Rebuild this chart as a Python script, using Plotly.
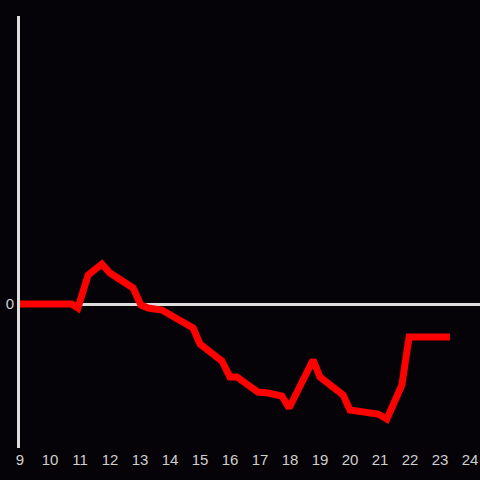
import plotly.graph_objects as go

x_vals = [9.0, 10.73, 10.93, 11.27, 11.73, 12.0, 12.77, 13.03, 13.27, 13.73,
          14.77, 15.0, 15.73, 16.0, 16.23, 16.93, 17.27, 17.73, 17.97, 18.77,
          19.0, 19.77, 20.0, 20.93, 21.23, 21.73, 21.97, 23.33]
y_vals = [0.0, 0.0, -0.4, 2.9, 4.0, 3.1, 1.6, -0.1, -0.4, -0.6,
          -2.4, -4.0, -5.7, -7.3, -7.3, -8.8, -8.9, -9.2, -10.4, -5.6,
          -7.3, -9.1, -10.6, -11.0, -11.5, -8.1, -3.3, -3.3]
x_ticks = list(range(9, 25))
y_ticks = [0]

bg = "#050307"
fig = go.Figure()
fig.add_trace(go.Scatter(x=x_vals, y=y_vals, mode="lines",
                         line=dict(color="#ff0000", width=7), showlegend=False))
fig.update_layout(
    width=480, height=480,
    margin=dict(l=20, r=0, t=16, b=32),
    paper_bgcolor=bg, plot_bgcolor=bg,
    font=dict(family="Liberation Sans, Arial, sans-serif", size=15, color="#d0d0d0"),
)
fig.update_xaxes(range=[9, 24.3333], tickvals=x_ticks, ticktext=[str(t) for t in x_ticks],
                 showgrid=False, zeroline=False, showline=False, ticks="",
                 ticklabelstandoff=1)
fig.update_yaxes(range=[-14.4, 28.8], tickvals=y_ticks, ticktext=["0"],
                 showgrid=False, zeroline=True, zerolinecolor="#dddddd", zerolinewidth=3,
                 showline=True, linecolor="#dddddd", linewidth=3, ticks="")
fig.write_html("out.html", config={"displayModeBar": False},
               post_script="document.body.style.margin='0';document.body.style.background='%s';" % bg)
